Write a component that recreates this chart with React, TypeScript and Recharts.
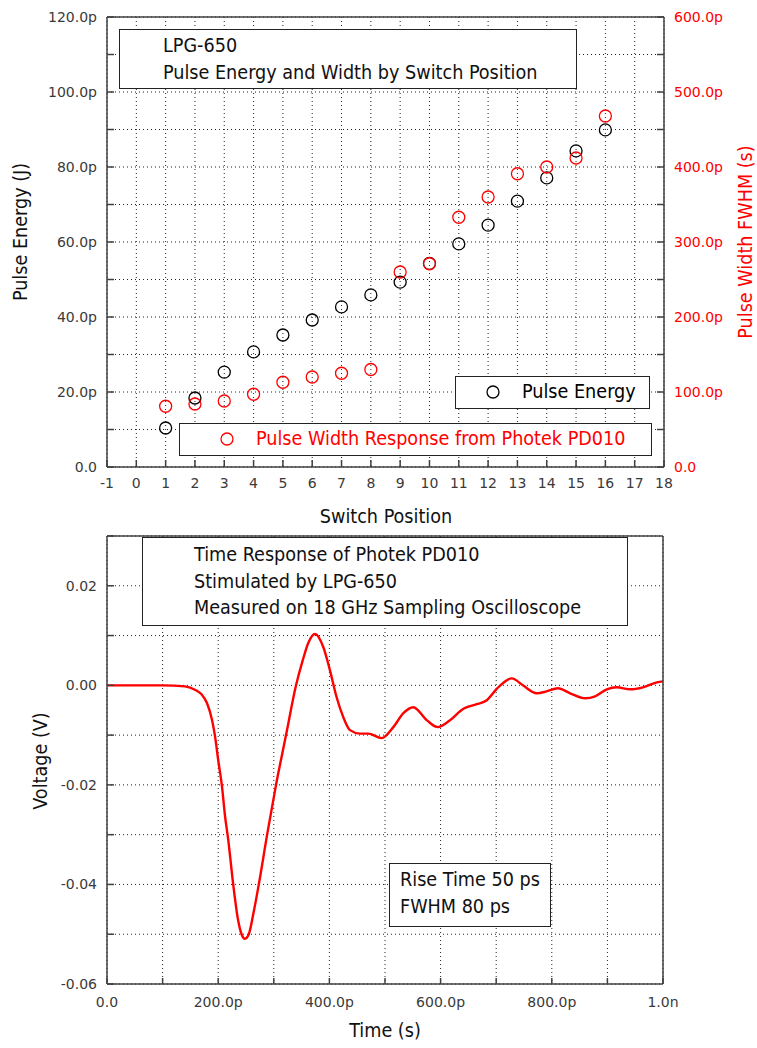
import React from "react"
import {
  CartesianGrid,
  Label,
  Legend,
  Line,
  LineChart,
  Scatter,
  ScatterChart,
  XAxis,
  YAxis,
} from "recharts"

// top chart: switch position sweep
const switchPositions = [1, 2, 3, 4, 5, 6, 7, 8, 9, 10, 11, 12, 13, 14, 15, 16]
const pulseEnergyP = [10.4, 18.4, 25.3, 30.7, 35.2, 39.2, 42.7, 45.9, 49.3, 54.3, 59.5, 64.5, 70.9, 77.1, 84.3, 89.9]
const pulseWidthP = [81, 84, 88, 97, 113, 120, 125, 130, 260, 271, 333, 360, 391, 400, 412, 468]

const positionTicks = [-1, 0, 1, 2, 3, 4, 5, 6, 7, 8, 9, 10, 11, 12, 13, 14, 15, 16, 17, 18]
const energyTicks = [0, 10, 20, 30, 40, 50, 60, 70, 80, 90, 100, 110, 120]
const widthTicks = [0, 50, 100, 150, 200, 250, 300, 350, 400, 450, 500, 550, 600]

// bottom chart: PD010 time response (time in ps, voltage in V)
const timePs = [
  0, 50, 100, 140, 160, 170, 180, 189, 194, 200, 207, 212, 218, 227, 236, 242, 248, 255, 263,
  273, 288, 304, 322, 340, 352, 362, 374, 389, 401, 413, 425, 437, 455, 470, 494, 515,
  533, 551, 575, 595, 617, 641, 665, 683, 701, 728, 748, 773, 791, 811, 833, 860, 878, 899, 917,
  941, 964, 989, 1000,
]
const voltage = [
  0, 0, 0, -0.0002, -0.001, -0.0018, -0.0036, -0.007, -0.01, -0.015, -0.0205, -0.026, -0.031,
  -0.04, -0.0473, -0.05, -0.0509, -0.05, -0.046, -0.04, -0.03, -0.02, -0.01, 0, 0.005, 0.0085,
  0.0103, 0.0077, 0.003, -0.0024, -0.0064, -0.009,
  -0.0097, -0.0097, -0.0106, -0.0084, -0.0056, -0.0044, -0.007, -0.0084, -0.007, -0.0047,
  -0.0038, -0.003, -0.0007, 0.0014, 0, -0.0016, -0.0012, -0.0006, -0.0016, -0.0026, -0.0022,
  -0.0008, -0.0004, -0.0008, -0.0004, 0.0006, 0.0008,
]
const timeTicks = [0, 100, 200, 300, 400, 500, 600, 700, 800, 900, 1000]
const voltageTicks = [-0.06, -0.05, -0.04, -0.03, -0.02, -0.01, 0, 0.01, 0.02, 0.03]

const energyData = switchPositions.map((pos, i) => ({ pos, value: pulseEnergyP[i] }))
const widthData = switchPositions.map((pos, i) => ({ pos, value: pulseWidthP[i] }))
const responseData = timePs.map((t, i) => ({ t, v: voltage[i] }))

const BOX_FONT = "'DejaVu Sans Condensed', 'DejaVu Sans', sans-serif"
const BOX_SIZE = 19.6
const RED = "#ff0000"
const AXIS = { stroke: "#404040", strokeWidth: 1.5 }
const TICK = { fill: "#3a3a3a", fontSize: 14, fontFamily: "'DejaVu Sans', sans-serif" }

const pico = (v: number) => (v === 0 ? "0.0" : `${v.toFixed(1)}p`)
const energyLabel = (v: number) => (v % 20 === 0 ? pico(v) : "")
const widthLabel = (v: number) => (v % 100 === 0 ? pico(v) : "")
const timeLabel = (v: number) =>
  v === 0 ? "0.0" : v === 1000 ? "1.0n" : v % 200 === 0 ? `${v.toFixed(1)}p` : ""
const voltLabel = (v: number) => (Math.round(v * 100) % 2 === 0 ? v.toFixed(2) : "")

function AxisTitle({ x, y, text, angle = 0, color = "#111" }: any) {
  return (
    <text
      x={x}
      y={y}
      transform={angle ? `rotate(${angle} ${x} ${y})` : undefined}
      textAnchor="middle"
      dominantBaseline="central"
      fill={color}
      fontSize={BOX_SIZE}
      fontFamily={BOX_FONT}
    >
      {text}
    </text>
  )
}

function Ring({ cx, cy, color }: any) {
  return <circle cx={cx} cy={cy} r={6} fill="none" stroke={color} strokeWidth={1.3} />
}

const legendBoxes: Record<string, any> = {
  "Pulse Energy": { left: 455, top: 376, width: 195, color: "#000", ring: 30, text: 66 },
  "Pulse Width Response from Photek PD010": { left: 179, top: 423, width: 473, color: RED, ring: 40, text: 76 },
}

function SeriesLegend({ payload }: any) {
  return (
    <div style={{ position: "relative", width: 757, height: 530, pointerEvents: "none" }}>
      {(payload ?? []).map((entry: any) => {
        const b = legendBoxes[entry.value]
        if (!b) return null
        return (
          <div
            key={entry.value}
            style={{
              position: "absolute",
              left: b.left,
              top: b.top,
              width: b.width,
              height: 33,
              boxSizing: "border-box",
              border: "1.5px solid #222",
              background: "#fff",
            }}
          >
            <svg width={14} height={14} style={{ position: "absolute", left: b.ring, top: 8 }}>
              <Ring cx={7} cy={7} color={b.color} />
            </svg>
            <span
              style={{
                position: "absolute",
                left: b.text,
                top: 0,
                lineHeight: "30px",
                fontSize: BOX_SIZE,
                fontFamily: BOX_FONT,
                color: b.color,
                whiteSpace: "nowrap",
              }}
            >
              {entry.value}
            </span>
          </div>
        )
      })}
    </div>
  )
}

function NoteBox({ left, top, width, height, padLeft, padTop, lines }: any) {
  return (
    <div
      style={{
        position: "absolute",
        left,
        top,
        width,
        height,
        boxSizing: "border-box",
        border: "1.5px solid #222",
        background: "#fff",
        paddingLeft: padLeft,
        paddingTop: padTop,
        fontFamily: BOX_FONT,
        fontSize: BOX_SIZE,
        lineHeight: "26.5px",
        color: "#111",
        whiteSpace: "nowrap",
      }}
    >
      {lines.map((l: string) => (
        <div key={l}>{l}</div>
      ))}
    </div>
  )
}

export default function App() {
  return (
    <div style={{ position: "absolute", left: 0, top: 0, width: 757, height: 1048, background: "#fff" }}>
      <div style={{ position: "absolute", left: 0, top: 0 }}>
        <ScatterChart width={757} height={530} margin={{ top: 0, right: 0, bottom: 0, left: 0 }}>
          <CartesianGrid
            xAxisId="pos"
            yAxisId="energy"
            stroke="#222"
            strokeDasharray="1 3"
          />
          <XAxis
            xAxisId="pos"
            dataKey="pos"
            type="number"
            domain={[-1, 18]}
            ticks={positionTicks}
            interval={0}
            height={63}
            axisLine={AXIS}
            tickLine={AXIS}
            tickSize={-7}
            tickMargin={18}
            tick={TICK}
          >
            <Label content={() => <AxisTitle x={386} y={516} text="Switch Position" />} />
          </XAxis>
          <XAxis
            xAxisId="top"
            orientation="top"
            type="number"
            domain={[-1, 18]}
            ticks={positionTicks}
            interval={0}
            height={17}
            axisLine={AXIS}
            tickLine={AXIS}
            tickSize={-7}
            tick={false}
          />
          <YAxis
            yAxisId="energy"
            dataKey="value"
            type="number"
            domain={[0, 120]}
            ticks={energyTicks}
            interval={0}
            width={107}
            axisLine={AXIS}
            tickLine={AXIS}
            tickSize={-7}
            tickMargin={17}
            tick={TICK}
            tickFormatter={energyLabel}
          >
            <Label content={() => <AxisTitle x={20} y={232} angle={-90} text="Pulse Energy (J)" />} />
          </YAxis>
          <YAxis
            yAxisId="width"
            orientation="right"
            dataKey="value"
            type="number"
            domain={[0, 600]}
            ticks={widthTicks}
            interval={0}
            width={93}
            axisLine={AXIS}
            tickLine={AXIS}
            tickSize={-7}
            tickMargin={17}
            tick={{ ...TICK, fill: RED }}
            tickFormatter={widthLabel}
          >
            <Label
              content={() => (
                <AxisTitle x={745} y={242} angle={-90} color={RED} text="Pulse Width FWHM (s)" />
              )}
            />
          </YAxis>
          <Scatter
            name="Pulse Energy"
            data={energyData}
            xAxisId="pos"
            yAxisId="energy"
            fill="#000"
            shape={(p: any) => <Ring cx={p.cx} cy={p.cy} color="#000" />}
            isAnimationActive={false}
          />
          <Scatter
            name="Pulse Width Response from Photek PD010"
            data={widthData}
            xAxisId="pos"
            yAxisId="width"
            fill={RED}
            shape={(p: any) => <Ring cx={p.cx} cy={p.cy} color={RED} />}
            isAnimationActive={false}
          />
          <Legend
            layout="horizontal"
            verticalAlign="middle"
            align="center"
            wrapperStyle={{ left: 0, top: 0, width: 757, height: 530 }}
            content={(props: any) => <SeriesLegend payload={props.payload} />}
          />
        </ScatterChart>
      </div>

      <div style={{ position: "absolute", left: 0, top: 530 }}>
        <LineChart
          width={757}
          height={518}
          data={responseData}
          margin={{ top: 0, right: 0, bottom: 0, left: 0 }}
        >
          <CartesianGrid xAxisId="t" yAxisId="v" stroke="#222" strokeDasharray="1 3" />
          <XAxis
            xAxisId="t"
            dataKey="t"
            type="number"
            domain={[0, 1000]}
            ticks={timeTicks}
            interval={0}
            height={64}
            axisLine={AXIS}
            tickLine={AXIS}
            tickSize={-6}
            tickMargin={19}
            tick={TICK}
            tickFormatter={timeLabel}
          >
            <Label content={() => <AxisTitle x={385} y={500} text="Time (s)" />} />
          </XAxis>
          <XAxis
            xAxisId="top"
            orientation="top"
            type="number"
            domain={[0, 1000]}
            height={6}
            axisLine={AXIS}
            tickLine={false}
            tick={false}
          />
          <YAxis
            yAxisId="v"
            type="number"
            domain={[-0.06, 0.03]}
            ticks={voltageTicks}
            interval={0}
            width={107}
            axisLine={AXIS}
            tickLine={AXIS}
            tickSize={-7}
            tickMargin={17}
            tick={TICK}
            tickFormatter={voltLabel}
          >
            <Label content={() => <AxisTitle x={40} y={231} angle={-90} text="Voltage (V)" />} />
          </YAxis>
          <YAxis
            yAxisId="right"
            orientation="right"
            type="number"
            domain={[-0.06, 0.03]}
            ticks={voltageTicks}
            interval={0}
            width={94}
            axisLine={AXIS}
            tickLine={AXIS}
            tickSize={-7}
            tick={false}
          />
          <Line
            xAxisId="t"
            yAxisId="v"
            dataKey="v"
            type="monotone"
            stroke={RED}
            strokeWidth={2.4}
            dot={false}
            isAnimationActive={false}
          />
        </LineChart>
      </div>

      <NoteBox
        left={119}
        top={29}
        width={458}
        height={60}
        padLeft={43}
        padTop={3}
        lines={["LPG-650", "Pulse Energy and Width by Switch Position"]}
      />
      <NoteBox
        left={142}
        top={537}
        width={486}
        height={89}
        padLeft={51}
        padTop={4}
        lines={["Time Response of Photek PD010", "Stimulated by LPG-650", "Measured on 18 GHz Sampling Oscilloscope"]}
      />
      <NoteBox
        left={389}
        top={863}
        width={162}
        height={64}
        padLeft={10}
        padTop={3}
        lines={["Rise Time 50 ps", "FWHM 80 ps"]}
      />
    </div>
  )
}
